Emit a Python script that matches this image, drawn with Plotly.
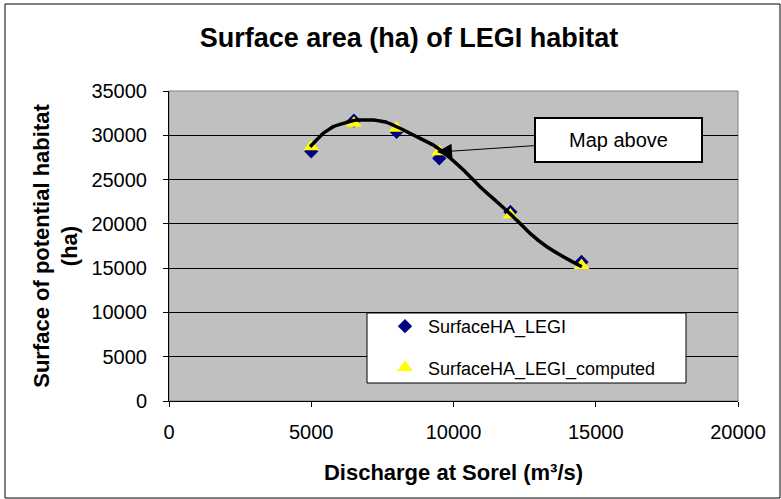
import plotly.graph_objects as go

discharge = [5000, 6500, 8000, 9500, 12000, 14500]
surface_obs = [28200, 31650, 30400, 27400, 21350, 15700]
surface_comp = [28700, 31350, 30800, 28150, 21000, 15300]

curve_x = [4960, 5420, 5780, 6130, 6600, 7180, 7650, 8120, 8710, 9290, 9760, 10350, 10930,
           11520, 12100, 12690, 13280, 13860, 14390, 14510]
curve_y = [28710, 30220, 30970, 31350, 31720, 31720, 31460, 30790, 29840, 28900, 27770, 26080, 24200,
           22500, 20810, 18930, 17420, 16290, 15350, 15160]

x_ticks = [0, 5000, 10000, 15000, 20000]
y_ticks = [0, 5000, 10000, 15000, 20000, 25000, 30000, 35000]

W, H = 781, 499
L, R, T, B = 169, 738, 91, 401


def px(x):
    return (x - L) / (R - L)


def py(y):
    return (B - y) / (B - T)


fig = go.Figure()
fig.add_trace(go.Scatter(x=discharge, y=surface_obs, mode="markers", name="SurfaceHA_LEGI",
                         marker=dict(symbol="diamond", size=11, color="#000080"), legendgroup="a"))
fig.add_trace(go.Scatter(x=discharge, y=surface_comp, mode="markers", name="SurfaceHA_LEGI_computed",
                         marker=dict(symbol="triangle-up", size=14, color="#FFFF00"), legendgroup="b"))
fig.add_trace(go.Scatter(x=curve_x, y=curve_y, mode="lines",
                         line=dict(color="black", width=3.5, shape="spline", smoothing=0.3),
                         showlegend=False, hoverinfo="skip"))

fig.update_layout(
    width=W, height=H,
    margin=dict(l=L, r=W - R, t=T, b=H - B),
    paper_bgcolor="white", plot_bgcolor="#C0C0C0",
    font=dict(family="Arial, Liberation Sans", size=20, color="black"),
    title=dict(text="<b>Surface area (ha) of LEGI habitat</b>", x=409 / W, xanchor="center",
               y=1 - 38 / H, yanchor="middle", font=dict(size=27)),
    xaxis=dict(range=[0, 20000], tickvals=x_ticks, ticktext=[str(v) for v in x_ticks],
               showgrid=False, zeroline=False,
               showline=True, linecolor="black", linewidth=1, ticks="outside", ticklen=5,
               tickcolor="black", ticklabelstandoff=8, tickfont=dict(size=20),
               title=dict(text="<b>Discharge at Sorel (m³/s)</b>", font=dict(size=22), standoff=22)),
    yaxis=dict(range=[0, 35000], tickvals=y_ticks, ticktext=[str(v) for v in y_ticks],
               showgrid=True, gridcolor="black", gridwidth=1,
               zeroline=False, showline=True, linecolor="black", linewidth=1, ticks="outside",
               ticklen=5, tickcolor="black", ticklabelstandoff=12, tickfont=dict(size=20),
               title=dict(text="<b>Surface of potential habitat<br>(ha)</b>", font=dict(size=22), standoff=7)),
    legend=dict(x=px(382), y=py(308), xanchor="left", yanchor="top", bgcolor="rgba(0,0,0,0)",
                font=dict(size=18), tracegroupgap=15, traceorder="grouped", itemwidth=36),
    shapes=[
        dict(type="rect", xref="paper", yref="paper", x0=px(5), x1=px(780), y0=py(498), y1=py(4),
             line=dict(color="black", width=1), layer="below"),
        dict(type="rect", xref="paper", yref="paper", x0=0, x1=1, y0=0, y1=1,
             line=dict(color="#808080", width=1), layer="below"),
        dict(type="rect", xref="paper", yref="paper", x0=px(367), x1=px(686), y0=py(383), y1=py(313),
             line=dict(color="black", width=1), fillcolor="white", layer="above"),
    ],
    annotations=[
        dict(x=9420, y=28100, xref="x", yref="y", text="Map above", showarrow=True,
             ax=181, ay=-12, axref="pixel", ayref="pixel",
             arrowhead=2, arrowsize=3, arrowwidth=1, arrowcolor="black",
             bgcolor="white", bordercolor="black", borderwidth=2,
             width=163, height=40, font=dict(size=20)),
    ],
)

fig.write_html("out.html", config={"displayModeBar": False},
               post_script="document.body.style.margin='0';")
